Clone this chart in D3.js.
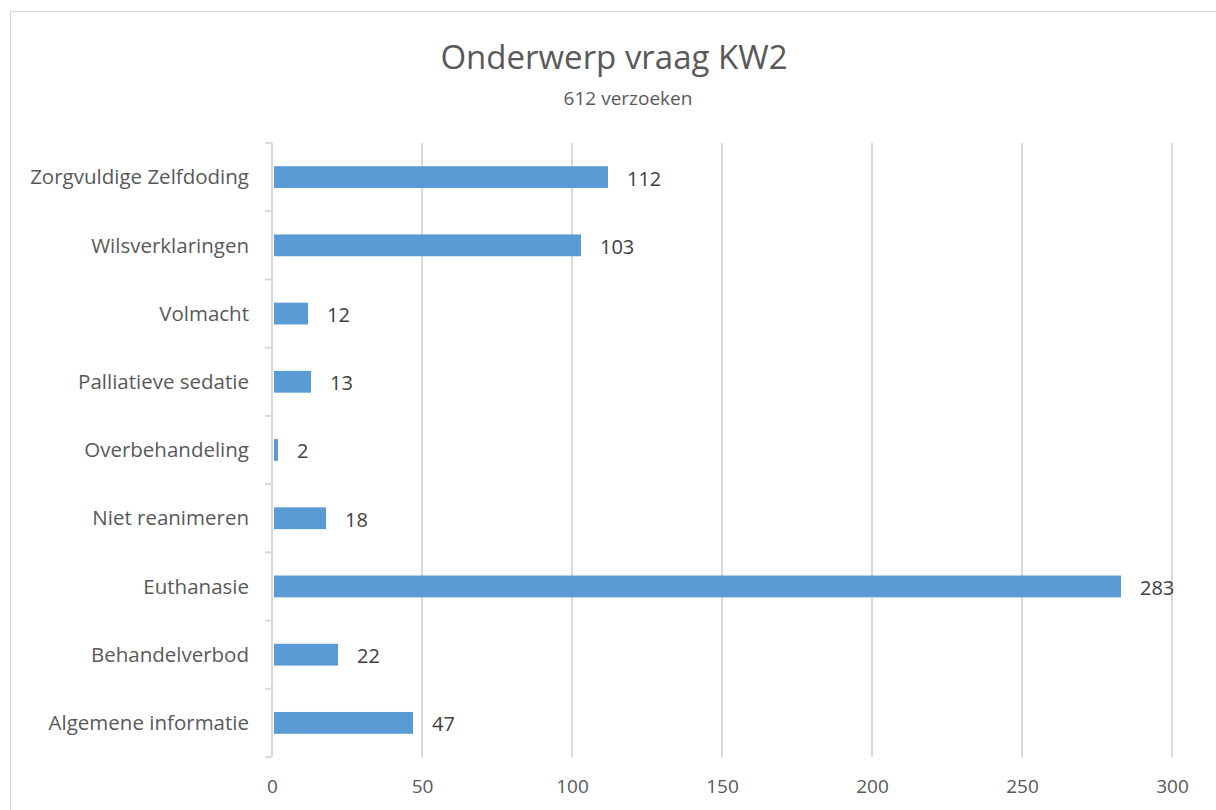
<!DOCTYPE html>
<html>
<head>
<meta charset="utf-8">
<script src="https://cdn.jsdelivr.net/npm/d3@7"></script>
<style>
  body { margin: 0; background: #fff; }
  svg { display: block; font-family: "Open Sans", sans-serif; }
</style>
</head>
<body>
<div id="wrapper"></div>
<script>
// Categories listed from top to bottom, as in the chart
const categories = [
  "Zorgvuldige Zelfdoding",
  "Wilsverklaringen",
  "Volmacht",
  "Palliatieve sedatie",
  "Overbehandeling",
  "Niet reanimeren",
  "Euthanasie",
  "Behandelverbod",
  "Algemene informatie"
]
const values = [112, 103, 12, 13, 2, 18, 283, 22, 47]
const xTicks = [0, 50, 100, 150, 200, 250, 300]

const titleText = "Onderwerp vraag KW2"
const subtitleText = "612 verzoeken"

let dimensions = {
  width: 1216,
  height: 810,
  margin: {
    top: 143,
    right: 44,
    bottom: 53,
    left: 272
  }
}
dimensions.boundedWidth = dimensions.width - dimensions.margin.left - dimensions.margin.right
dimensions.boundedHeight = dimensions.height - dimensions.margin.top - dimensions.margin.bottom

const data = categories.map((c, i) => ({ category: c, value: values[i] }))

const wrapper = d3.select("#wrapper").append("svg")
  .attr("width", dimensions.width)
  .attr("height", dimensions.height)

// chart frame (runs off the right and bottom edge in the original)
wrapper.append("rect")
  .attr("x", 10.5)
  .attr("y", 11.5)
  .attr("width", 1230)
  .attr("height", 830)
  .attr("fill", "none")
  .attr("stroke", "#d9d9d9")

// title
wrapper.append("text")
  .attr("x", 614)
  .attr("y", 69)
  .attr("text-anchor", "middle")
  .attr("fill", "#595959")
  .style("font-size", "33px")
  .text(titleText)

wrapper.append("text")
  .attr("x", 628)
  .attr("y", 105)
  .attr("text-anchor", "middle")
  .attr("fill", "#595959")
  .style("font-size", "19px")
  .text(subtitleText)

const bounds = wrapper.append("g")
  .attr("transform", `translate(${dimensions.margin.left},${dimensions.margin.top})`)

// scales
const xScale = d3.scaleLinear()
  .domain([0, 300])
  .range([0, dimensions.boundedWidth])

const yScale = d3.scaleBand()
  .domain(categories)
  .range([0, dimensions.boundedHeight])
  .paddingInner(0.68)
  .paddingOuter(0.34)

const bandStep = dimensions.boundedHeight / categories.length

// gridlines
bounds.append("g")
  .selectAll("line")
  .data(xTicks.slice(1))
  .join("line")
  .attr("x1", d => xScale(d))
  .attr("x2", d => xScale(d))
  .attr("y1", 0)
  .attr("y2", dimensions.boundedHeight)
  .attr("stroke", "#d9d9d9")
  .attr("stroke-width", 2)

// x axis (labels only)
const xAxisGenerator = d3.axisBottom(xScale)
  .tickValues(xTicks)
  .tickSize(0)
  .tickPadding(23)
const xAxis = bounds.append("g")
  .attr("transform", `translate(0,${dimensions.boundedHeight})`)
  .call(xAxisGenerator)
xAxis.select(".domain").remove()
xAxis.selectAll("text")
  .attr("fill", "#595959")
  .style("font-size", "19px")
  .style("font-family", "Open Sans, sans-serif")

// y axis line and category boundary ticks
bounds.append("line")
  .attr("x1", 0).attr("x2", 0)
  .attr("y1", 0).attr("y2", dimensions.boundedHeight)
  .attr("stroke", "#d9d9d9")
  .attr("stroke-width", 2)

bounds.append("g")
  .selectAll("line")
  .data(d3.range(categories.length + 1))
  .join("line")
  .attr("x1", -7).attr("x2", 0)
  .attr("y1", d => d * bandStep)
  .attr("y2", d => d * bandStep)
  .attr("stroke", "#d9d9d9")
  .attr("stroke-width", 2)

// category labels
bounds.append("g")
  .selectAll("text")
  .data(categories)
  .join("text")
  .attr("x", -23)
  .attr("y", d => yScale(d) + yScale.bandwidth() / 2)
  .attr("dy", "0.35em")
  .attr("text-anchor", "end")
  .attr("fill", "#595959")
  .style("font-size", "20.5px")
  .text(d => d)

// bars
bounds.append("g")
  .selectAll("rect")
  .data(data)
  .join("rect")
  .attr("x", 2)
  .attr("y", d => yScale(d.category))
  .attr("width", d => Math.max(0, xScale(d.value) - 2))
  .attr("height", yScale.bandwidth())
  .attr("fill", "#5b9bd5")

// value labels
bounds.append("g")
  .selectAll("text")
  .data(data)
  .join("text")
  .attr("x", d => xScale(d.value) + 19)
  .attr("y", d => yScale(d.category) + yScale.bandwidth() / 2)
  .attr("dy", "0.42em")
  .attr("fill", "#404040")
  .style("font-size", "20px")
  .text(d => d.value)
</script>
</body>
</html>
